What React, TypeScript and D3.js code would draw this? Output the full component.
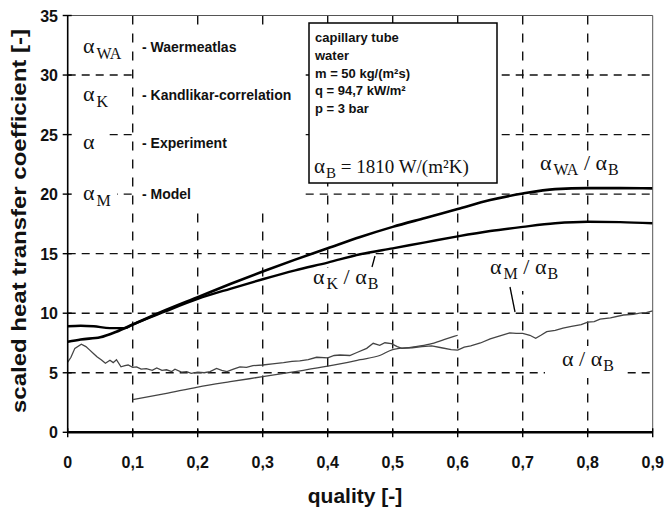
import React from "react";
import * as d3 from "d3";

// Thermal quality (x) and scaled heat transfer coefficients (y)
const qualityWA = [0, 0.02, 0.05, 0.075, 0.1, 0.15, 0.2, 0.25, 0.3, 0.35, 0.4, 0.45, 0.5, 0.55, 0.6, 0.65, 0.7, 0.75, 0.8, 0.85, 0.9];
const waermeatlas = [7.6, 7.8, 7.98, 8.45, 9.05, 10.25, 11.35, 12.45, 13.5, 14.5, 15.45, 16.4, 17.25, 18.0, 18.75, 19.5, 20.05, 20.42, 20.5, 20.5, 20.48];

const qualityK = [0, 0.02, 0.04, 0.065, 0.088, 0.1, 0.15, 0.2, 0.25, 0.3, 0.35, 0.4, 0.45, 0.5, 0.55, 0.6, 0.65, 0.7, 0.75, 0.8, 0.85, 0.9];
const kandlikar = [8.9, 8.95, 8.9, 8.75, 8.75, 9.05, 10.15, 11.2, 12.05, 12.85, 13.6, 14.25, 14.95, 15.45, 15.95, 16.45, 16.9, 17.25, 17.55, 17.68, 17.65, 17.55];

const qualityExp = [
  0, 0.005, 0.011, 0.021, 0.028, 0.034, 0.04, 0.045, 0.052, 0.058, 0.065, 0.07, 0.075, 0.082, 0.088, 0.093,
  0.1, 0.106, 0.113, 0.121, 0.13, 0.137, 0.145, 0.152, 0.16, 0.165, 0.175, 0.183, 0.19, 0.2, 0.21, 0.219,
  0.229, 0.237, 0.245, 0.255, 0.265, 0.275, 0.285, 0.3, 0.315, 0.332, 0.345, 0.357, 0.37, 0.383, 0.4, 0.41,
  0.419, 0.434, 0.445, 0.46, 0.47, 0.48, 0.488, 0.498, 0.507, 0.514, 0.53, 0.545, 0.56, 0.575, 0.59, 0.6,
  0.61, 0.62, 0.635, 0.65, 0.665, 0.68, 0.69, 0.7, 0.711, 0.72, 0.728, 0.737, 0.75, 0.762, 0.775, 0.79,
  0.8, 0.81, 0.819, 0.835, 0.855, 0.87, 0.88, 0.89, 0.9,
];
const experiment = [
  5.9, 6.3, 7.05, 7.4, 7.2, 6.9, 6.6, 6.35, 6.07, 5.8, 6.05, 5.85, 6.1, 5.5, 5.6, 5.65,
  5.45, 5.5, 5.3, 5.35, 5.2, 5.4, 5.2, 5.25, 5.1, 5.3, 5.05, 5.1, 4.95, 5.05, 5.0, 5.1,
  5.37, 5.2, 5.1, 5.3, 5.5, 5.45, 5.6, 5.65, 5.75, 5.85, 5.95, 6.0, 6.1, 6.3, 6.25, 6.45,
  6.49, 6.45, 6.7, 7.05, 7.47, 7.3, 7.52, 7.45, 7.2, 7.05, 7.1, 7.2, 7.25, 7.1, 6.95, 6.9,
  7.15, 7.25, 7.5, 7.85, 8.1, 8.35, 8.3, 8.3, 8.15, 7.9, 8.15, 8.45, 8.55, 8.75, 8.9, 9.05,
  9.25, 9.3, 9.5, 9.6, 9.85, 9.9, 10.0, 10.05, 10.2,
];

const qualityModel = [0.1, 0.15, 0.2, 0.25, 0.3, 0.35, 0.4, 0.45, 0.48, 0.5, 0.53, 0.557, 0.58, 0.6];
const model = [2.75, 3.25, 3.8, 4.25, 4.67, 5.1, 5.55, 6.1, 6.45, 6.95, 7.15, 7.4, 7.8, 8.15];

const xTicks = [0, 0.1, 0.2, 0.3, 0.4, 0.5, 0.6, 0.7, 0.8, 0.9];
const xTickLabels = ["0", "0,1", "0,2", "0,3", "0,4", "0,5", "0,6", "0,7", "0,8", "0,9"];
const yTicks = [0, 5, 10, 15, 20, 25, 30, 35];

const legendNames = ["- Waermeatlas", "- Kandlikar-correlation", "- Experiment", "- Model"];
const legendSubs = ["WA", "K", "", "M"];
const conditions = ["capillary tube", "water", "m = 50 kg/(m\u00B2s)", "q = 94,7 kW/m\u00B2", "p = 3 bar"];

const W = 667;
const H = 518;
const SANS = "'Liberation Sans', Arial, sans-serif";
const SERIF = "'Liberation Serif', 'Times New Roman', serif";

const x = d3.scaleLinear().domain([0, 0.9]).range([67.7, 652.7]);
const y = d3.scaleLinear().domain([0, 35]).range([432.3, 15.5]);

type Pt = [number, number];
const zip = (xs: number[], ys: number[]): Pt[] => xs.map((q, i) => [q, ys[i]]);
const line = d3
  .line<Pt>()
  .x((d) => x(d[0]))
  .y((d) => y(d[1]))
  .curve(d3.curveMonotoneX);
const rough = d3
  .line<Pt>()
  .x((d) => x(d[0]))
  .y((d) => y(d[1]));

function Ratio({ px, py, sub }: { px: number; py: number; sub: string }) {
  return (
    <text x={px} y={py} fontFamily={SERIF} fontSize={22} fill="#111">
      {"\u03B1"}
      {sub ? (
        <tspan fontSize={16} dx={2} dy={5}>
          {sub}
        </tspan>
      ) : null}
      <tspan fontSize={22} dy={sub ? -5 : 0}>
        {" / \u03B1"}
      </tspan>
      <tspan fontSize={16} dx={1} dy={5}>
        B
      </tspan>
    </text>
  );
}

export default function App() {
  const legendY = [52, 100, 148, 199];
  return (
    <svg width={W} height={H} style={{ position: "absolute", left: 0, top: 0, background: "#fff" }}>
      <rect x={0} y={0} width={W} height={H} fill="#fff" />

      {/* dashed grid */}
      <g stroke="#111" strokeWidth={1.4}>
        {yTicks.slice(1, -1).map((v) => (
          <line key={"h" + v} x1={x(0)} x2={x(0.9)} y1={y(v)} y2={y(v)} strokeDasharray="8,6" />
        ))}
        {xTicks.slice(1, -1).map((v) => (
          <line key={"v" + v} x1={x(v)} x2={x(v)} y1={y(35)} y2={y(0)} strokeDasharray="9,9" />
        ))}
      </g>

      {/* white label backgrounds */}
      <g fill="#fff">
        <rect x={72} y={36} width={58} height={27} />
        <rect x={72} y={86} width={56} height={28} />
        <rect x={69} y={128} width={38} height={32} />
        <rect x={69} y={186} width={48} height={28} />
        <rect x={137} y={26} width={164} height={181} />
        <rect x={536} y={152} width={98} height={28} />
        <rect x={309} y={268} width={80} height={32} />
        <rect x={487} y={257} width={81} height={34} />
        <rect x={545} y={346} width={80} height={32} />
      </g>

      {/* curves */}
      <path d={rough(zip(qualityExp, experiment)) ?? ""} fill="none" stroke="#444" strokeWidth={1.3} />
      <path d={line(zip(qualityModel, model)) ?? ""} fill="none" stroke="#444" strokeWidth={1.3} />
      <path d={line(zip(qualityK, kandlikar)) ?? ""} fill="none" stroke="#000" strokeWidth={2.4} />
      <path d={line(zip(qualityWA, waermeatlas)) ?? ""} fill="none" stroke="#000" strokeWidth={2.6} />

      {/* frame and axes */}
      <line x1={x(0)} x2={x(0.9)} y1={y(35)} y2={y(35)} stroke="#555" strokeWidth={1} />
      <line x1={x(0.9)} x2={x(0.9)} y1={y(35)} y2={y(0)} stroke="#555" strokeWidth={1} />
      <line x1={x(0)} x2={x(0)} y1={y(35)} y2={y(0)} stroke="#000" strokeWidth={1.6} />
      <line x1={x(0)} x2={x(0.9)} y1={y(0)} y2={y(0)} stroke="#000" strokeWidth={2.6} />
      <g stroke="#000" strokeWidth={1.4}>
        {xTicks.map((v) => (
          <line key={"xt" + v} x1={x(v)} x2={x(v)} y1={y(0) - 4} y2={y(0) + 5} />
        ))}
        {yTicks.map((v) => (
          <line key={"yt" + v} x1={x(0) - 5} x2={x(0) + 4} y1={y(v)} y2={y(v)} />
        ))}
      </g>

      {/* tick labels */}
      <g fontFamily={SANS} fontWeight="bold" fontSize={16} fill="#111">
        {xTicks.map((v, i) => (
          <text key={"xl" + v} x={x(v)} y={468} textAnchor="middle">
            {xTickLabels[i]}
          </text>
        ))}
        {yTicks.map((v) => (
          <text key={"yl" + v} x={58} y={y(v) + 6} textAnchor="end">
            {v}
          </text>
        ))}
      </g>

      {/* axis titles */}
      <text x={355} y={503} textAnchor="middle" fontFamily={SANS} fontWeight="bold" fontSize={21} fill="#111">
        quality [-]
      </text>
      <text
        transform="translate(26,221) rotate(-90)"
        textAnchor="middle"
        fontFamily={SANS}
        fontWeight="bold"
        fontSize={21}
        textLength={384}
        lengthAdjust="spacingAndGlyphs"
        fill="#111"
      >
        scaled heat transfer coefficient [-]
      </text>

      {/* legend */}
      {legendNames.map((name, i) => (
        <g key={name}>
          <text x={83} y={legendY[i] + 1} fontFamily={SERIF} fontSize={22} fill="#111">
            {"\u03B1"}
            {legendSubs[i] ? (
              <tspan fontSize={16} dx={2} dy={6}>
                {legendSubs[i]}
              </tspan>
            ) : null}
          </text>
          <text x={142} y={legendY[i]} fontFamily={SANS} fontWeight="bold" fontSize={14} fill="#111">
            {name}
          </text>
        </g>
      ))}

      {/* operating conditions */}
      <rect x={309} y={23} width={188} height={160} fill="#fff" stroke="#000" strokeWidth={1.5} />
      {conditions.map((c, i) => (
        <text key={c} x={315} y={42 + i * 17.8} fontFamily={SANS} fontWeight="bold" fontSize={13} fill="#111">
          {c}
        </text>
      ))}
      <text x={314} y={173} fontFamily={SERIF} fontSize={21} fill="#111">
        {"\u03B1"}
        <tspan fontSize={15} dx={1} dy={5}>
          B
        </tspan>
        <tspan fontSize={19} dy={-5}>
          {" = 1810 W/(m\u00B2K)"}
        </tspan>
      </text>

      {/* curve labels */}
      <Ratio px={540} py={170} sub="WA" />
      <Ratio px={313} py={284} sub="K" />
      <Ratio px={490} py={274} sub="M" />
      <Ratio px={562} py={366} sub="" />
      <g stroke="#000" strokeWidth={1.3}>
        <line x1={375} y1={256} x2={372} y2={267} />
        <line x1={510} y1={287} x2={515} y2={312} />
      </g>
    </svg>
  );
}
